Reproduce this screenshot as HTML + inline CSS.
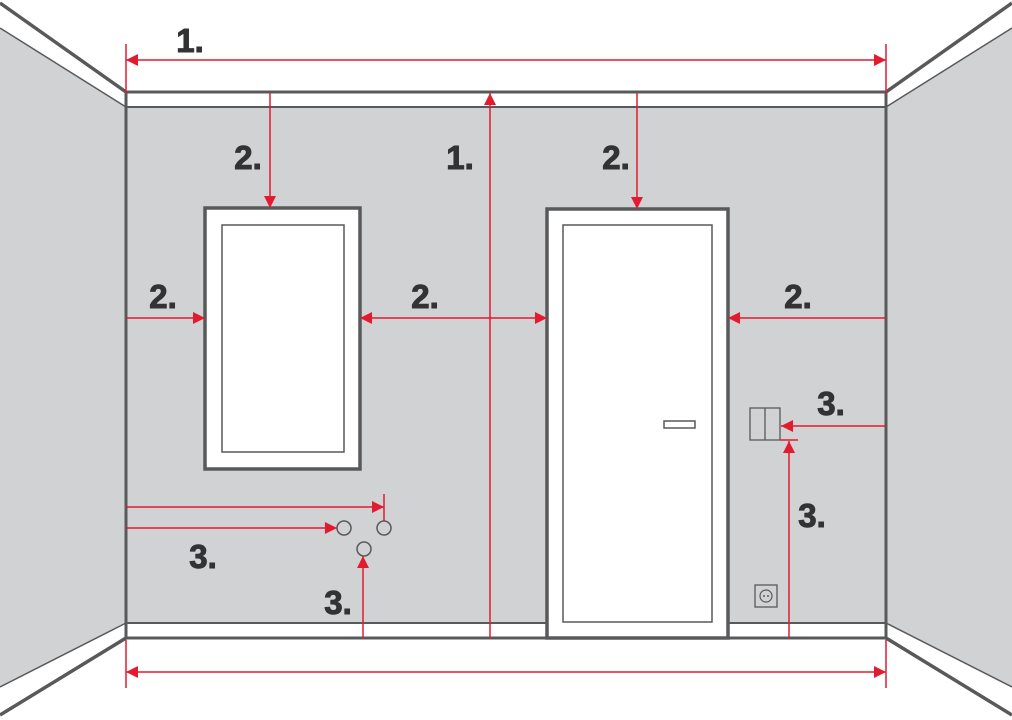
<!DOCTYPE html><html><head><style>body{margin:0;background:#fff}svg{display:block}</style></head><body>
<svg width="1012" height="720" viewBox="0 0 1012 720" xmlns="http://www.w3.org/2000/svg">
<defs><marker id="a" viewBox="0 0 10 10" refX="10" refY="5" markerWidth="12" markerHeight="12" markerUnits="userSpaceOnUse" orient="auto-start-reverse"><path d="M0,0L10,5L0,10z" fill="#e31b2f"/></marker></defs>
<rect width="1012" height="720" fill="#fff"/>
<polygon points="0,28 126,107 126,623 0,687" fill="#d1d2d4"/>
<polygon points="1012,28 886,107 886,623 1012,687" fill="#d1d2d4"/>
<rect x="126" y="107" width="760" height="516" fill="#d1d2d4"/>
<g stroke="#58595b" fill="none">
<line x1="0" y1="28" x2="126" y2="107" stroke-width="1.5"/>
<line x1="1012" y1="28" x2="886" y2="107" stroke-width="1.5"/>
<line x1="0" y1="687" x2="126" y2="623" stroke-width="1.5"/>
<line x1="1012" y1="687" x2="886" y2="623" stroke-width="1.5"/>
<line x1="0" y1="3" x2="126" y2="92" stroke-width="3.5"/>
<line x1="1012" y1="3" x2="886" y2="92" stroke-width="3.5"/>
<line x1="0" y1="715" x2="126" y2="638" stroke-width="3.5"/>
<line x1="1012" y1="715" x2="886" y2="638" stroke-width="3.5"/>
<rect x="126" y="92" width="760" height="546" stroke-width="3"/>
<line x1="126" y1="107" x2="886" y2="107" stroke-width="2"/>
<line x1="126" y1="623" x2="886" y2="623" stroke-width="2"/>
<rect x="205" y="208" width="155" height="261" fill="#fff" stroke-width="3.5"/>
<rect x="222" y="225" width="122" height="227" stroke-width="1.5"/>
<rect x="547" y="209" width="181" height="429" fill="#fff" stroke-width="3.5"/>
<rect x="563" y="225" width="149" height="397" stroke-width="1.5"/>
<rect x="664" y="421" width="31" height="7" stroke-width="1.5"/>
<rect x="750" y="408" width="30" height="32" stroke-width="1.3"/>
<line x1="765" y1="408" x2="765" y2="440" stroke-width="1.3"/>
<rect x="755" y="585" width="22" height="22" stroke-width="1.3"/>
<circle cx="766" cy="596" r="6" stroke-width="1.2"/>
<circle cx="344" cy="528" r="7" stroke-width="1.5"/>
<circle cx="384" cy="528" r="7" stroke-width="1.5"/>
<circle cx="364" cy="549" r="7" stroke-width="1.5"/>
</g>
<circle cx="764" cy="596" r="1" fill="#58595b"/><circle cx="768" cy="596" r="1" fill="#58595b"/>
<g stroke="#e31b2f" stroke-width="1.5" fill="none">
<line x1="126" y1="44" x2="126" y2="93"/><line x1="886" y1="44" x2="886" y2="93"/>
<line x1="126" y1="60" x2="886" y2="60" marker-start="url(#a)" marker-end="url(#a)"/>
<line x1="126" y1="640" x2="126" y2="688"/><line x1="886" y1="640" x2="886" y2="688"/>
<line x1="126" y1="672" x2="886" y2="672" marker-start="url(#a)" marker-end="url(#a)"/>
<line x1="490" y1="638" x2="490" y2="93" marker-end="url(#a)"/>
<line x1="270" y1="93" x2="270" y2="208" marker-end="url(#a)"/>
<line x1="637" y1="93" x2="637" y2="209" marker-end="url(#a)"/>
<line x1="126" y1="318" x2="205" y2="318" marker-end="url(#a)"/>
<line x1="360" y1="318" x2="547" y2="318" marker-start="url(#a)" marker-end="url(#a)"/>
<line x1="886" y1="318" x2="728" y2="318" marker-end="url(#a)"/>
<line x1="886" y1="426" x2="781" y2="426" marker-end="url(#a)"/>
<line x1="789" y1="638" x2="789" y2="441" marker-end="url(#a)"/>
<line x1="780" y1="440" x2="798" y2="440"/>
<line x1="126" y1="507" x2="384" y2="507" marker-end="url(#a)"/>
<line x1="384" y1="494" x2="384" y2="521"/>
<line x1="126" y1="528" x2="337" y2="528" marker-end="url(#a)"/>
<line x1="363" y1="638" x2="363" y2="556" marker-end="url(#a)"/>
</g>
<g font-family="Liberation Sans, sans-serif" font-weight="bold" font-size="33" fill="#333" stroke="#333" stroke-width="1" text-anchor="middle">
<text x="190" y="52">1.</text>
<text x="248" y="169">2.</text>
<text x="460" y="169">1.</text>
<text x="616" y="169">2.</text>
<text x="163" y="308">2.</text>
<text x="425" y="308">2.</text>
<text x="798" y="308">2.</text>
<text x="831" y="415">3.</text>
<text x="812" y="527">3.</text>
<text x="203" y="568">3.</text>
<text x="338" y="614">3.</text>
</g>
</svg></body></html>
